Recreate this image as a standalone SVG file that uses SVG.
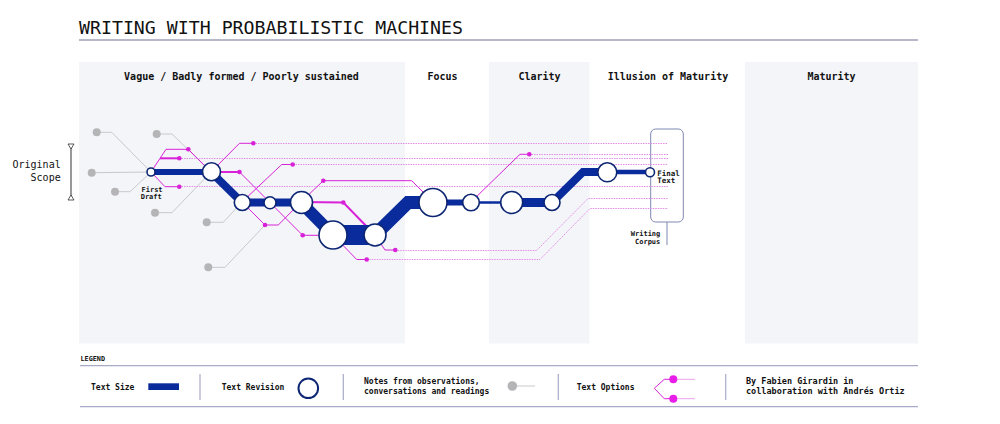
<svg xmlns="http://www.w3.org/2000/svg" width="1000" height="424" viewBox="0 0 1000 424">
<defs>
<style>
.mono{font-family:"DejaVu Sans Mono","Liberation Mono",monospace;fill:#111;}
.ph{font-size:10px;font-weight:bold;text-anchor:middle;}
.panel{fill:#f4f5f9;}
.main{fill:none;stroke:#0a2b9c;stroke-linejoin:miter;stroke-linecap:butt;}
.rev{fill:#fff;stroke:#0d2673;stroke-width:1.6;}
.opt{fill:none;stroke:#d822d8;stroke-width:1;}
.optb{fill:none;stroke:#d822d8;stroke-width:2;}
.dot{fill:#d822d8;}
.dash{fill:none;stroke:#e48ee8;stroke-width:1;stroke-dasharray:1.5 1;}
.note{fill:none;stroke:#c9c9cc;stroke-width:1;}
.ndot{fill:#b5b5b8;}
.sep{stroke:#a9aac6;stroke-width:1.2;}
.lg{font-size:8px;font-weight:bold;}
.sm{font-size:7px;font-weight:bold;}
</style>
</defs>
<rect width="1000" height="424" fill="#fff"/>
<text class="mono" x="79" y="33.5" font-size="18" textLength="384" lengthAdjust="spacingAndGlyphs">WRITING WITH PROBABILISTIC MACHINES</text>
<line x1="79" y1="40" x2="918" y2="40" stroke="#a0a0ba" stroke-width="1.3"/>

<g id="panels">
<rect class="panel" x="79" y="62" width="326" height="281.5"/>
<rect class="panel" x="489" y="62" width="100.5" height="281.5"/>
<rect class="panel" x="745" y="62" width="173" height="281.5"/>
<text class="mono ph" x="241.5" y="79.5">Vague / Badly formed / Poorly sustained</text>
<text class="mono ph" x="442.5" y="79.5">Focus</text>
<text class="mono ph" x="539.5" y="79.5">Clarity</text>
<text class="mono ph" x="668" y="79.5">Illusion of Maturity</text>
<text class="mono ph" x="831.5" y="79.5">Maturity</text>
</g>

<g id="original-scope">
<text class="mono" x="60.7" y="168" font-size="10" text-anchor="end">Original</text>
<text class="mono" x="60.7" y="181" font-size="10" text-anchor="end">Scope</text>
<line x1="71" y1="147" x2="71" y2="197" stroke="#333" stroke-width="1"/>
<path d="M68,144 L74,144 L71,149 Z" fill="#fff" stroke="#333" stroke-width="0.8"/>
<path d="M68,200 L74,200 L71,195 Z" fill="#fff" stroke="#333" stroke-width="0.8"/>
</g>

<g id="corpus">
<rect x="650.7" y="129" width="32.6" height="93" rx="5" fill="none" stroke="#8088b0" stroke-width="1"/>
<line x1="667" y1="222" x2="667" y2="245" stroke="#8088b0" stroke-width="1"/>
<text class="mono sm" x="660.3" y="235.7" text-anchor="end">Writing</text>
<text class="mono sm" x="660.3" y="243.5" text-anchor="end">Corpus</text>
</g>

<g id="connectors">
<g id="notes">
<polyline class="note" points="96.7,132.3 111.7,132.3 151,172"/>
<polyline class="note" points="156.7,134 172,134 211,172"/>
<polyline class="note" points="91.7,172.7 151,172"/>
<polyline class="note" points="115,191.7 130,191.7 151,172"/>
<polyline class="note" points="155,212.7 172,212.7 211,172"/>
<polyline class="note" points="206.7,222.3 223.3,222.3 242,202"/>
<polyline class="note" points="208.3,267.3 225,267.3 265,225"/>
<circle class="ndot" cx="96.7" cy="132.3" r="4"/>
<circle class="ndot" cx="156.7" cy="134" r="4"/>
<circle class="ndot" cx="91.7" cy="172.7" r="4"/>
<circle class="ndot" cx="115" cy="191.7" r="4"/>
<circle class="ndot" cx="155" cy="212.7" r="4"/>
<circle class="ndot" cx="206.7" cy="222.3" r="4"/>
<circle class="ndot" cx="208.3" cy="267.3" r="4"/>
</g>
<g id="option-trails">
<line class="dash" x1="253" y1="143.5" x2="668" y2="143.5"/>
<line class="dash" x1="529" y1="154.5" x2="668" y2="154.5"/>
<line class="dash" x1="179" y1="158.5" x2="668" y2="158.5"/>
<line class="dash" x1="293" y1="164.5" x2="668" y2="164.5"/>
<line class="dash" x1="179" y1="186.5" x2="668" y2="186.5"/>
<polyline class="dash" points="395.3,250.5 536.5,250.5 588,198.5 668,198.5"/>
<polyline class="dash" points="366.7,259.5 540,259.5 590,208.5 668,208.5"/>
</g>
<g id="options">
<polyline class="opt" points="151,172 166,149.3 188.3,149.3 211,172"/>
<polyline class="optb" points="160,158.3 179.3,158.3"/>
<polyline class="opt" points="151,172 165,186.7 179.3,186.7"/>
<polyline class="opt" points="211,172 239.5,143.3 253.3,143.3"/>
<polyline class="optb" points="211,172 239.5,172"/>
<polyline class="opt" points="239.5,172 302.7,235.3 333,235.3"/>
<polyline class="opt" points="242,202 281.7,164.5 292.7,164.5"/>
<polyline class="opt" points="242,202 265,225 278.3,225 301,202"/>
<polyline class="opt" points="301,202 323.3,180.7 411.7,180.7 433,202"/>
<polyline class="optb" points="301,202 343.3,202.5 375,235"/>
<polyline class="opt" points="333,235 356.7,259.5 366.7,259.5"/>
<polyline class="opt" points="375,235 385,250 395.3,250"/>
<polyline class="opt" points="471,202 520,154.3 529.3,154.3"/>
<circle class="dot" cx="188.3" cy="149.3" r="2.3"/>
<circle class="dot" cx="179.3" cy="158.3" r="2.3"/>
<circle class="dot" cx="179.3" cy="186.7" r="2.3"/>
<circle class="dot" cx="253.3" cy="143.3" r="2.3"/>
<circle class="dot" cx="239.5" cy="172" r="2.3"/>
<circle class="dot" cx="302.7" cy="235.3" r="2.3"/>
<circle class="dot" cx="292.7" cy="164.5" r="2.3"/>
<circle class="dot" cx="265" cy="225" r="2.3"/>
<circle class="dot" cx="323.3" cy="180.7" r="2.3"/>
<circle class="dot" cx="343.3" cy="202.5" r="2.3"/>
<circle class="dot" cx="366.7" cy="259.5" r="2.3"/>
<circle class="dot" cx="395.3" cy="250" r="2.3"/>
<circle class="dot" cx="529.3" cy="154.3" r="2.3"/>
</g>
<g id="text-line">
<line class="main" x1="151" y1="172" x2="211" y2="172" stroke-width="6"/>
<line class="main" x1="211" y1="172" x2="242" y2="202.5" stroke-width="8"/>
<line class="main" x1="242" y1="202.5" x2="301" y2="202.5" stroke-width="8"/>
<line class="main" x1="301" y1="202.5" x2="333" y2="235" stroke-width="12"/>
<line class="main" x1="333" y1="235" x2="375" y2="235" stroke-width="20"/>
<polyline class="main" points="375,235 408,202.5 433,202.5" stroke-width="13"/>
<line class="main" x1="433" y1="202.5" x2="471" y2="202.5" stroke-width="6"/>
<line class="main" x1="471" y1="202.5" x2="512" y2="202.5" stroke-width="2.5"/>
<line class="main" x1="512" y1="202.5" x2="552" y2="202.5" stroke-width="9"/>
<polyline class="main" points="552,202.5 583,172 607,172" stroke-width="8"/>
<line class="main" x1="607" y1="172" x2="650" y2="172" stroke-width="4.5"/>
</g>
</g>

<g id="revisions">
<g id="first-draft">
<circle class="rev" cx="151" cy="172" r="4"/>
<text class="mono sm" x="141.5" y="191.7">First</text>
<text class="mono sm" x="140.7" y="199.3">Draft</text>
</g>
<circle id="r1" class="rev" cx="211.5" cy="171.7" r="9"/>
<circle id="r2" class="rev" cx="242.3" cy="202.5" r="8"/>
<circle id="r3" class="rev" cx="270" cy="202.7" r="6"/>
<circle id="r4" class="rev" cx="301.5" cy="202.5" r="11"/>
<circle id="r5" class="rev" cx="333" cy="235" r="14"/>
<circle id="r6" class="rev" cx="375" cy="235" r="11"/>
<circle id="r7" class="rev" cx="433" cy="202.5" r="14"/>
<circle id="r8" class="rev" cx="471" cy="202.5" r="8.3"/>
<circle id="r9" class="rev" cx="511.7" cy="202.5" r="11"/>
<circle id="r10" class="rev" cx="552" cy="202.5" r="8"/>
<circle id="r11" class="rev" cx="607.3" cy="172.3" r="9.5"/>
<g id="final-text">
<circle class="rev" cx="650" cy="172.3" r="4.5"/>
<text class="mono" x="657.3" y="175.5" font-size="7.5" font-weight="bold">Final</text>
<text class="mono" x="657.3" y="183" font-size="7.5" font-weight="bold">Text</text>
</g>
</g>

<g id="legend">
<text class="mono" x="80.5" y="360.5" font-size="6.8" font-weight="bold">LEGEND</text>
<line class="sep" x1="80" y1="365.7" x2="918" y2="365.7"/>
<line class="sep" x1="80" y1="406.7" x2="918" y2="406.7"/>
<line class="sep" x1="200" y1="374" x2="200" y2="400"/>
<line class="sep" x1="343.3" y1="374" x2="343.3" y2="400"/>
<line class="sep" x1="558.3" y1="374" x2="558.3" y2="400"/>
<line class="sep" x1="725.7" y1="374" x2="725.7" y2="400"/>
<text class="mono lg" x="91" y="389.5">Text Size</text>
<rect x="148.3" y="383.3" width="30.7" height="6.7" fill="#0a2b9c"/>
<text class="mono lg" x="221.7" y="389.5">Text Revision</text>
<circle cx="308.3" cy="388.3" r="9.8" fill="#fff" stroke="#0d2673" stroke-width="2"/>
<text class="mono lg" x="364" y="384.3">Notes from observations,</text>
<text class="mono lg" x="364" y="394">conversations and readings</text>
<line x1="512" y1="386" x2="535" y2="386" stroke="#c9c9cc" stroke-width="1"/>
<circle cx="512.3" cy="386" r="4.8" fill="#b5b5b8"/>
<text class="mono lg" x="576.7" y="389.5">Text Options</text>
<line x1="673" y1="379.3" x2="695" y2="379.3" stroke="#eaa4ea" stroke-width="1"/>
<line x1="673" y1="398.7" x2="695" y2="398.7" stroke="#eaa4ea" stroke-width="1"/>
<polyline points="673.3,379.3 664.3,379.3 654.3,388.3 664.3,398.7 673.3,398.7" fill="none" stroke="#d822d8" stroke-width="1"/>
<circle cx="673.3" cy="379.3" r="4" fill="#e81ee8"/>
<circle cx="673.3" cy="398.7" r="4" fill="#e81ee8"/>
<text class="mono" x="746" y="384.3" font-size="8.5" font-weight="bold">By Fabien Girardin in</text>
<text class="mono" x="746" y="394" font-size="8.5" font-weight="bold">collaboration with Andrés Ortiz</text>
</g>
</svg>
